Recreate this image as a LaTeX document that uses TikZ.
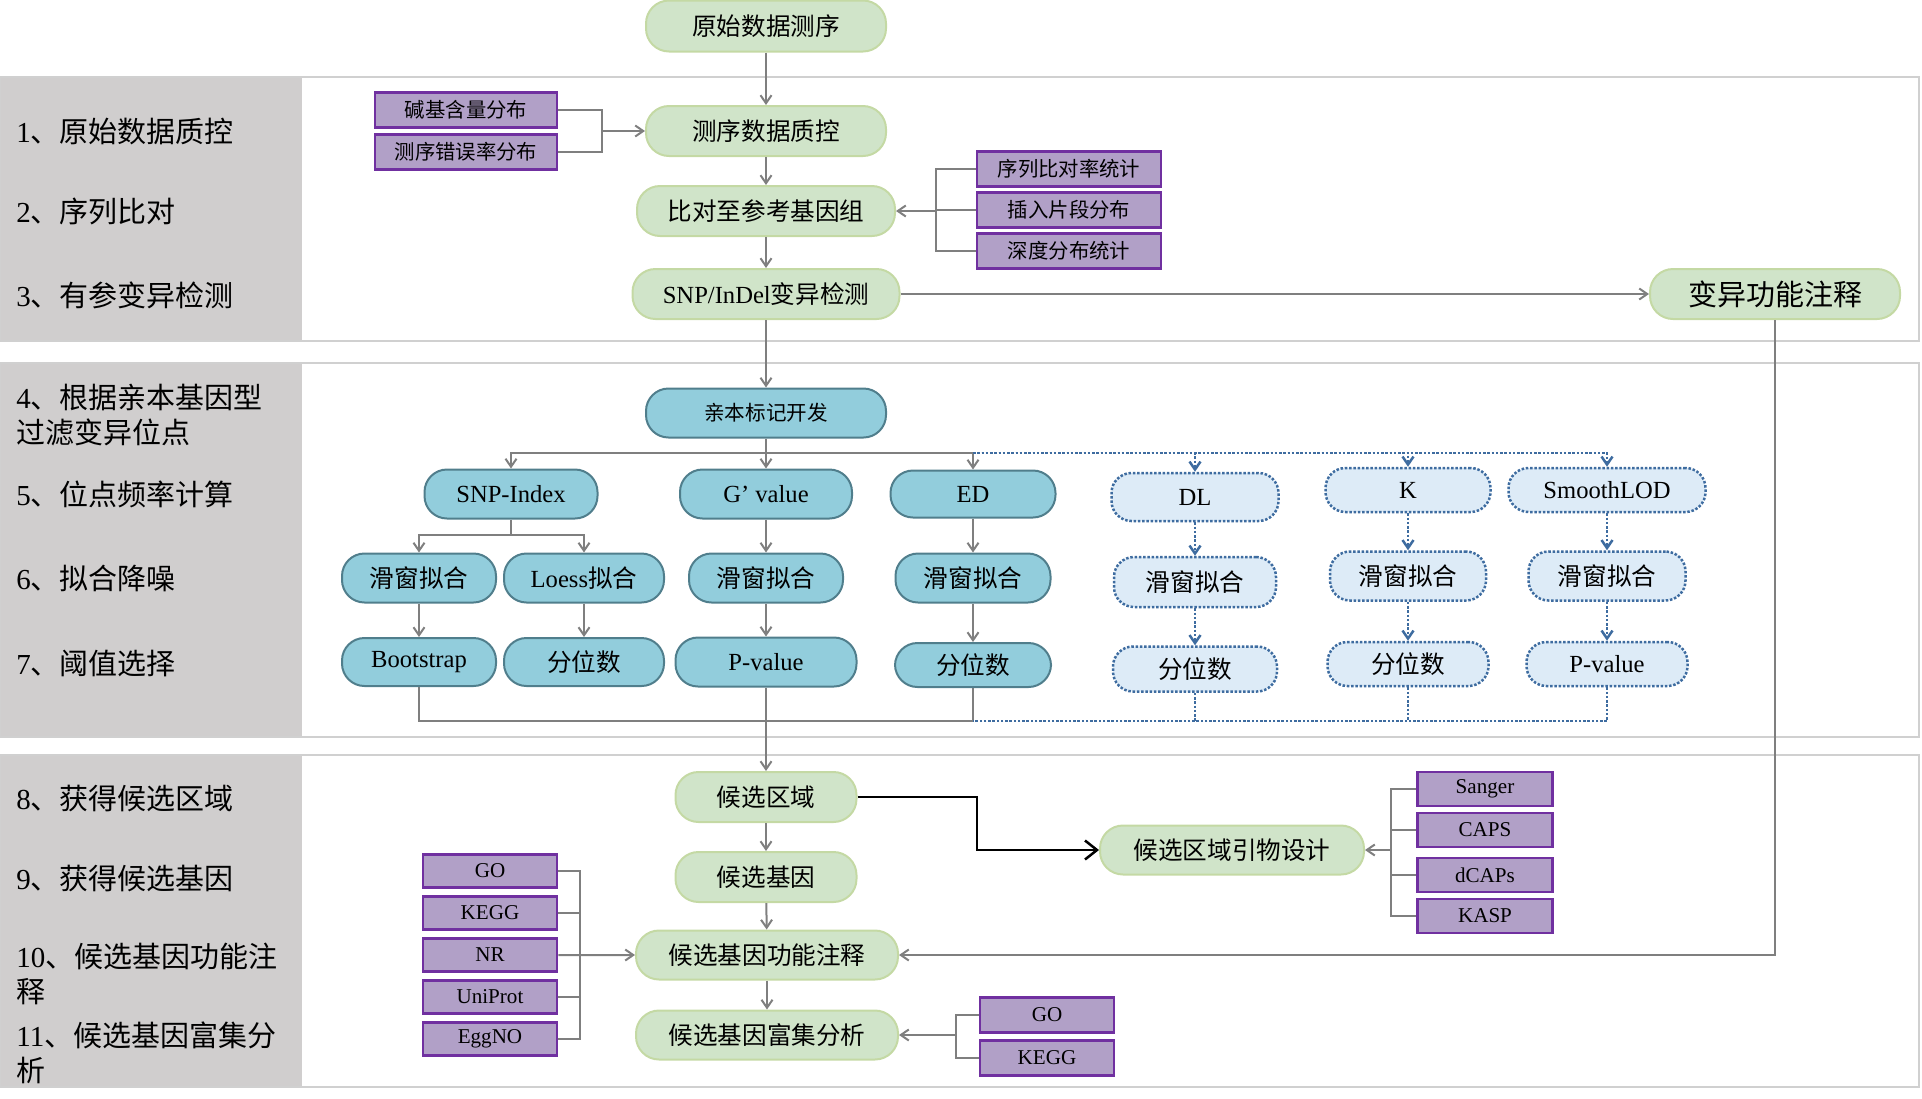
\documentclass[tikz,border=0pt]{standalone}
\usepackage{fontspec}
\setmainfont{Liberation Serif}
\newfontfamily\cjk{Noto Sans CJK SC}
\newcommand{\entxt}[1]{{\rmfamily #1}}
\usepackage{xcolor}
\usetikzlibrary{arrows.meta,positioning}
\definecolor{seqGreen}{HTML}{D0E4C9}
\definecolor{seqGreenLine}{HTML}{C4D9A4}
\definecolor{seqBlue}{HTML}{92CDDC}
\definecolor{seqBlueLine}{HTML}{507E8C}
\definecolor{seqPale}{HTML}{DDEBF7}
\definecolor{seqDot}{HTML}{3E6CA0}
\definecolor{seqPurple}{HTML}{B1A0C7}
\definecolor{seqPurpleLine}{HTML}{7030A0}
\definecolor{seqBand}{HTML}{D0CECE}
\definecolor{seqFrame}{HTML}{D0D0D0}
\definecolor{seqLine}{HTML}{7F7F7F}
\tikzset{
  stage/.style={
    rectangle,
    rounded corners=4.6mm,
    draw=seqGreenLine,
    fill=seqGreen,
    line width=0.4mm,
    inner sep=0pt,
    align=center,
    minimum height=10mm,
    font=\cjk\fontsize{14}{17}\selectfont
  },
  method/.style={
    rectangle,
    rounded corners=4.5mm,
    draw=seqBlueLine,
    fill=seqBlue,
    line width=0.4mm,
    inner sep=0pt,
    align=center,
    minimum height=9.8mm,
    font=\cjk\fontsize{14}{17}\selectfont
  },
  altmethod/.style={
    method,
    rounded corners=4mm,
    draw=seqDot,
    fill=seqPale,
    line width=0.5mm,
    dash pattern=on 0.5mm off 0.35mm,
    minimum height=8.8mm
  },
  tagbox/.style={
    rectangle,
    draw=seqPurpleLine,
    fill=seqPurple,
    line width=0.5mm,
    inner sep=0pt,
    align=center,
    minimum width=36.4mm,
    minimum height=7mm,
    font=\cjk\fontsize{11.6}{14}\selectfont
  },
  smalltag/.style={tagbox, minimum width=26.8mm, minimum height=6.6mm, font=\cjk\fontsize{12}{14}\selectfont},
  steplabel/.style={anchor=west, align=left, inner sep=0pt, font=\cjk\fontsize{16.5}{20}\selectfont},
  bandframe/.style={draw=seqFrame, line width=0.4mm},
  joinline/.style={line width=0.4mm, draw=seqLine},
  dotline/.style={line width=0.5mm, draw=seqDot, dash pattern=on 0.5mm off 0.35mm},
  arrow/.style={-{Straight Barb[length=1.6mm,width=2.2mm]}, joinline},
  dottedarrow/.style={-{Straight Barb[length=1.6mm,width=2.2mm]}, dotline},
  keyarrow/.style={-{Straight Barb[length=2.4mm,width=3.8mm]}, line width=0.5mm, draw=black}
}

\begin{document}
\begin{tikzpicture}[x=0.2mm, y=-0.2mm, node distance=0.9mm]
  \useasboundingbox (0,0) rectangle (1922,1098);

  % step bands
  \fill[seqBand] (0,77) rectangle (302,341);
  \draw[bandframe] (0,77) rectangle (1919,341);
  \fill[seqBand] (0,363) rectangle (302,737);
  \draw[bandframe] (0,363) rectangle (1919,737);
  \fill[seqBand] (0,755) rectangle (302,1087);
  \draw[bandframe] (0,755) rectangle (1919,1087);

  \node[steplabel] (l1) at (16,132) {\entxt{1}、原始数据质控};
  \node[steplabel] (l2) at (16,211) {\entxt{2}、序列比对};
  \node[steplabel] (l3) at (16,295) {\entxt{3}、有参变异检测};
  \node[steplabel] (l4) at (16,415) {\entxt{4}、根据亲本基因型\\过滤变异位点};
  \node[steplabel] (l5) at (16,494) {\entxt{5}、位点频率计算};
  \node[steplabel] (l6) at (16,578) {\entxt{6}、拟合降噪};
  \node[steplabel] (l7) at (16,663) {\entxt{7}、阈值选择};
  \node[steplabel] (l8) at (16,798) {\entxt{8}、获得候选区域};
  \node[steplabel] (l9) at (16,878) {\entxt{9}、获得候选基因};
  \node[steplabel] (l10) at (16,974) {\entxt{10}、候选基因功能注\\释};
  \node[steplabel] (l11) at (16,1053) {\entxt{11}、候选基因富集分\\析};

  % sequencing and calling
  \node[stage, minimum width=48mm, minimum height=10.2mm] (raw) at (766,26) {原始数据测序};
  \node[stage, minimum width=48mm] (qc) at (766,131) {测序数据质控};
  \node[stage, minimum width=51.6mm] (align) at (766,211) {比对至参考基因组};
  \node[stage, minimum width=53.4mm] (snp) at (766,294) {\entxt{SNP/InDel}变异检测};
  \node[stage, minimum width=50mm, font=\cjk\fontsize{16.5}{20}\selectfont] (annot) at (1775,294) {变异功能注释};

  \node[tagbox] (base) at (466,110) {碱基含量分布};
  \node[tagbox, below=of base] (err) {测序错误率分布};
  \node[tagbox, minimum width=36.8mm] (rate) at (1069,169) {序列比对率统计};
  \node[tagbox, minimum width=36.8mm, below=0.7mm of rate] (ins) {插入片段分布};
  \node[tagbox, minimum width=36.8mm, below=0.7mm of ins] (dep) {深度分布统计};

  % marker development
  \node[method, minimum width=48mm, font=\cjk\fontsize{11.7}{14}\selectfont] (parent) at (766,413) {亲本标记开发};
  \node[method, minimum width=34.6mm] (sidx) at (511,494) {\entxt{SNP-Index}};
  \node[method, minimum width=34.4mm] (gval) at (766,494) {\entxt{G’ value}};
  \node[method, minimum width=33mm, minimum height=9.4mm] (ed) at (973,494) {\entxt{ED}};
  \node[method, minimum width=30.8mm] (swa) at (419,578) {滑窗拟合};
  \node[method, minimum width=32mm] (loess) at (584,578) {\entxt{Loess}拟合};
  \node[method, minimum width=30.8mm] (swb) at (766,578) {滑窗拟合};
  \node[method, minimum width=31mm] (swc) at (973,578) {滑窗拟合};
  \node[method, minimum width=30.8mm, minimum height=9.6mm] (boot) at (419,662) {\entxt{Bootstrap}};
  \node[method, minimum width=32mm, minimum height=9.6mm] (qa) at (584,662) {分位数};
  \node[method, minimum width=36.2mm] (pva) at (766,662) {\entxt{P-value}};
  \node[method, minimum width=31.2mm, minimum height=8.8mm] (qb) at (973,665) {分位数};

  \node[altmethod, minimum width=33.4mm, minimum height=9.6mm] (dl) at (1195,497) {\entxt{DL}};
  \node[altmethod, minimum width=33mm] (kval) at (1408,490) {\entxt{K}};
  \node[altmethod, minimum width=39.4mm] (slod) at (1607,490) {\entxt{SmoothLOD}};
  \node[altmethod, minimum width=32.4mm, minimum height=10mm] (swd) at (1195,582) {滑窗拟合};
  \node[altmethod, minimum width=31.2mm, minimum height=9.8mm] (swe) at (1408,576) {滑窗拟合};
  \node[altmethod, minimum width=31.4mm, minimum height=9.8mm] (swf) at (1607,576) {滑窗拟合};
  \node[altmethod, minimum width=32.8mm, minimum height=9mm] (qd) at (1195,669) {分位数};
  \node[altmethod, minimum width=32.2mm] (qe) at (1408,664) {分位数};
  \node[altmethod, minimum width=32.2mm] (pvb) at (1607,664) {\entxt{P-value}};

  % candidates
  \node[stage, minimum width=36.2mm] (region) at (766,797) {候选区域};
  \node[stage, minimum width=36.2mm] (gene) at (766,877) {候选基因};
  \node[stage, minimum width=52.4mm, minimum height=9.8mm] (gfun) at (767,955) {候选基因功能注释};
  \node[stage, minimum width=52.4mm, minimum height=9.8mm] (genr) at (767,1035) {候选基因富集分析};
  \node[stage, minimum width=52.8mm, minimum height=9.8mm] (primer) at (1232,850) {候选区域引物设计};

  \node[smalltag, minimum width=27mm, minimum height=6.8mm] (sanger) at (1485,789) {\entxt{Sanger}};
  \node[smalltag, minimum width=27mm, minimum height=6.8mm, below=of sanger] (caps) {\entxt{CAPS}};
  \node[smalltag, minimum width=27mm, minimum height=6.8mm, below=1.7mm of caps] (dcaps) {\entxt{dCAPs}};
  \node[smalltag, minimum width=27mm, minimum height=6.8mm, below=of dcaps] (kasp) {\entxt{KASP}};

  \node[smalltag] (goa) at (490,871) {\entxt{GO}};
  \node[smalltag, below=1.3mm of goa] (kegga) {\entxt{KEGG}};
  \node[smalltag, below=1.3mm of kegga] (nr) {\entxt{NR}};
  \node[smalltag, below=1.3mm of nr] (uniprot) {\entxt{UniProt}};
  \node[smalltag, below=1.3mm of uniprot] (eggno) {\entxt{EggNO}};
  \node[smalltag, minimum height=7mm] (gob) at (1047,1015) {\entxt{GO}};
  \node[smalltag, minimum height=7mm, below=1.1mm of gob] (keggb) {\entxt{KEGG}};

  % connectors
  \coordinate (qcin) at (602,131);
  \coordinate (alin) at (936,211);
  \coordinate (split) at (766,453);
  \coordinate (dsplit) at (973,453);
  \coordinate (ssplit) at (511,535);
  \coordinate (merge) at (766,721);
  \coordinate (dmerge) at (973,721);
  \coordinate (turn) at (977,850);
  \coordinate (prin) at (1391,850);
  \coordinate (fnin) at (580,955);
  \coordinate (enin) at (956,1035);

  \draw[arrow] (raw) -- (qc);
  \draw[joinline] (base.east) -| (qcin) |- (err.east);
  \draw[arrow] (qcin) -- (qc);
  \draw[arrow] (qc) -- (align);
  \draw[joinline] (rate.west) -| (alin) |- (dep.west);
  \draw[joinline] (ins.west) -- (ins.west -| alin);
  \draw[arrow] (alin) -- (align);
  \draw[arrow] (align) -- (snp);
  \draw[arrow] (snp) -- (annot);
  \draw[arrow] (snp) -- (parent);

  \draw[arrow] (parent) -- (gval);
  \draw[arrow] (split) -| (sidx);
  \draw[arrow] (split) -| (ed);
  \draw[dottedarrow] (dsplit) -| (dl);
  \draw[dottedarrow] (dsplit) -| (kval);
  \draw[dottedarrow] (dsplit) -| (slod);
  \draw[joinline] (sidx) -- (ssplit);
  \draw[arrow] (ssplit) -| (swa);
  \draw[arrow] (ssplit) -| (loess);
  \draw[arrow] (gval) -- (swb);
  \draw[arrow] (ed) -- (swc);
  \draw[arrow] (swa) -- (boot);
  \draw[arrow] (loess) -- (qa);
  \draw[arrow] (swb) -- (pva);
  \draw[arrow] (swc) -- (qb);
  \draw[dottedarrow] (dl) -- (swd);
  \draw[dottedarrow] (swd) -- (qd);
  \draw[dottedarrow] (kval) -- (swe);
  \draw[dottedarrow] (swe) -- (qe);
  \draw[dottedarrow] (slod) -- (swf);
  \draw[dottedarrow] (swf) -- (pvb);
  \draw[joinline] (boot) |- (merge);
  \draw[joinline] (qb) |- (merge);
  \draw[dotline] (pvb) |- (dmerge);
  \draw[dotline] (qe.south) -- (qe.south |- dmerge);
  \draw[dotline] (qd.south) -- (qd.south |- dmerge);
  \draw[arrow] (pva) -- (region);

  \draw[arrow] (region) -- (gene);
  \draw[arrow] (gene) -- (gfun);
  \draw[arrow] (gfun) -- (genr);
  \draw[keyarrow] (region.east) -| (turn) -- (primer);
  \draw[joinline] (sanger.west) -| (prin) |- (kasp.west);
  \draw[joinline] (caps.west) -- (caps.west -| prin);
  \draw[joinline] (dcaps.west) -- (dcaps.west -| prin);
  \draw[arrow] (prin) -- (primer);
  \draw[joinline] (goa.east) -| (fnin) |- (eggno.east);
  \draw[joinline] (kegga.east) -- (kegga.east -| fnin);
  \draw[joinline] (uniprot.east) -- (uniprot.east -| fnin);
  \draw[arrow] (nr) -- (gfun);
  \draw[joinline] (gob.west) -| (enin) |- (keggb.west);
  \draw[arrow] (enin) -- (genr);
  \draw[arrow] (annot) |- (gfun);
\end{tikzpicture}
\end{document}
